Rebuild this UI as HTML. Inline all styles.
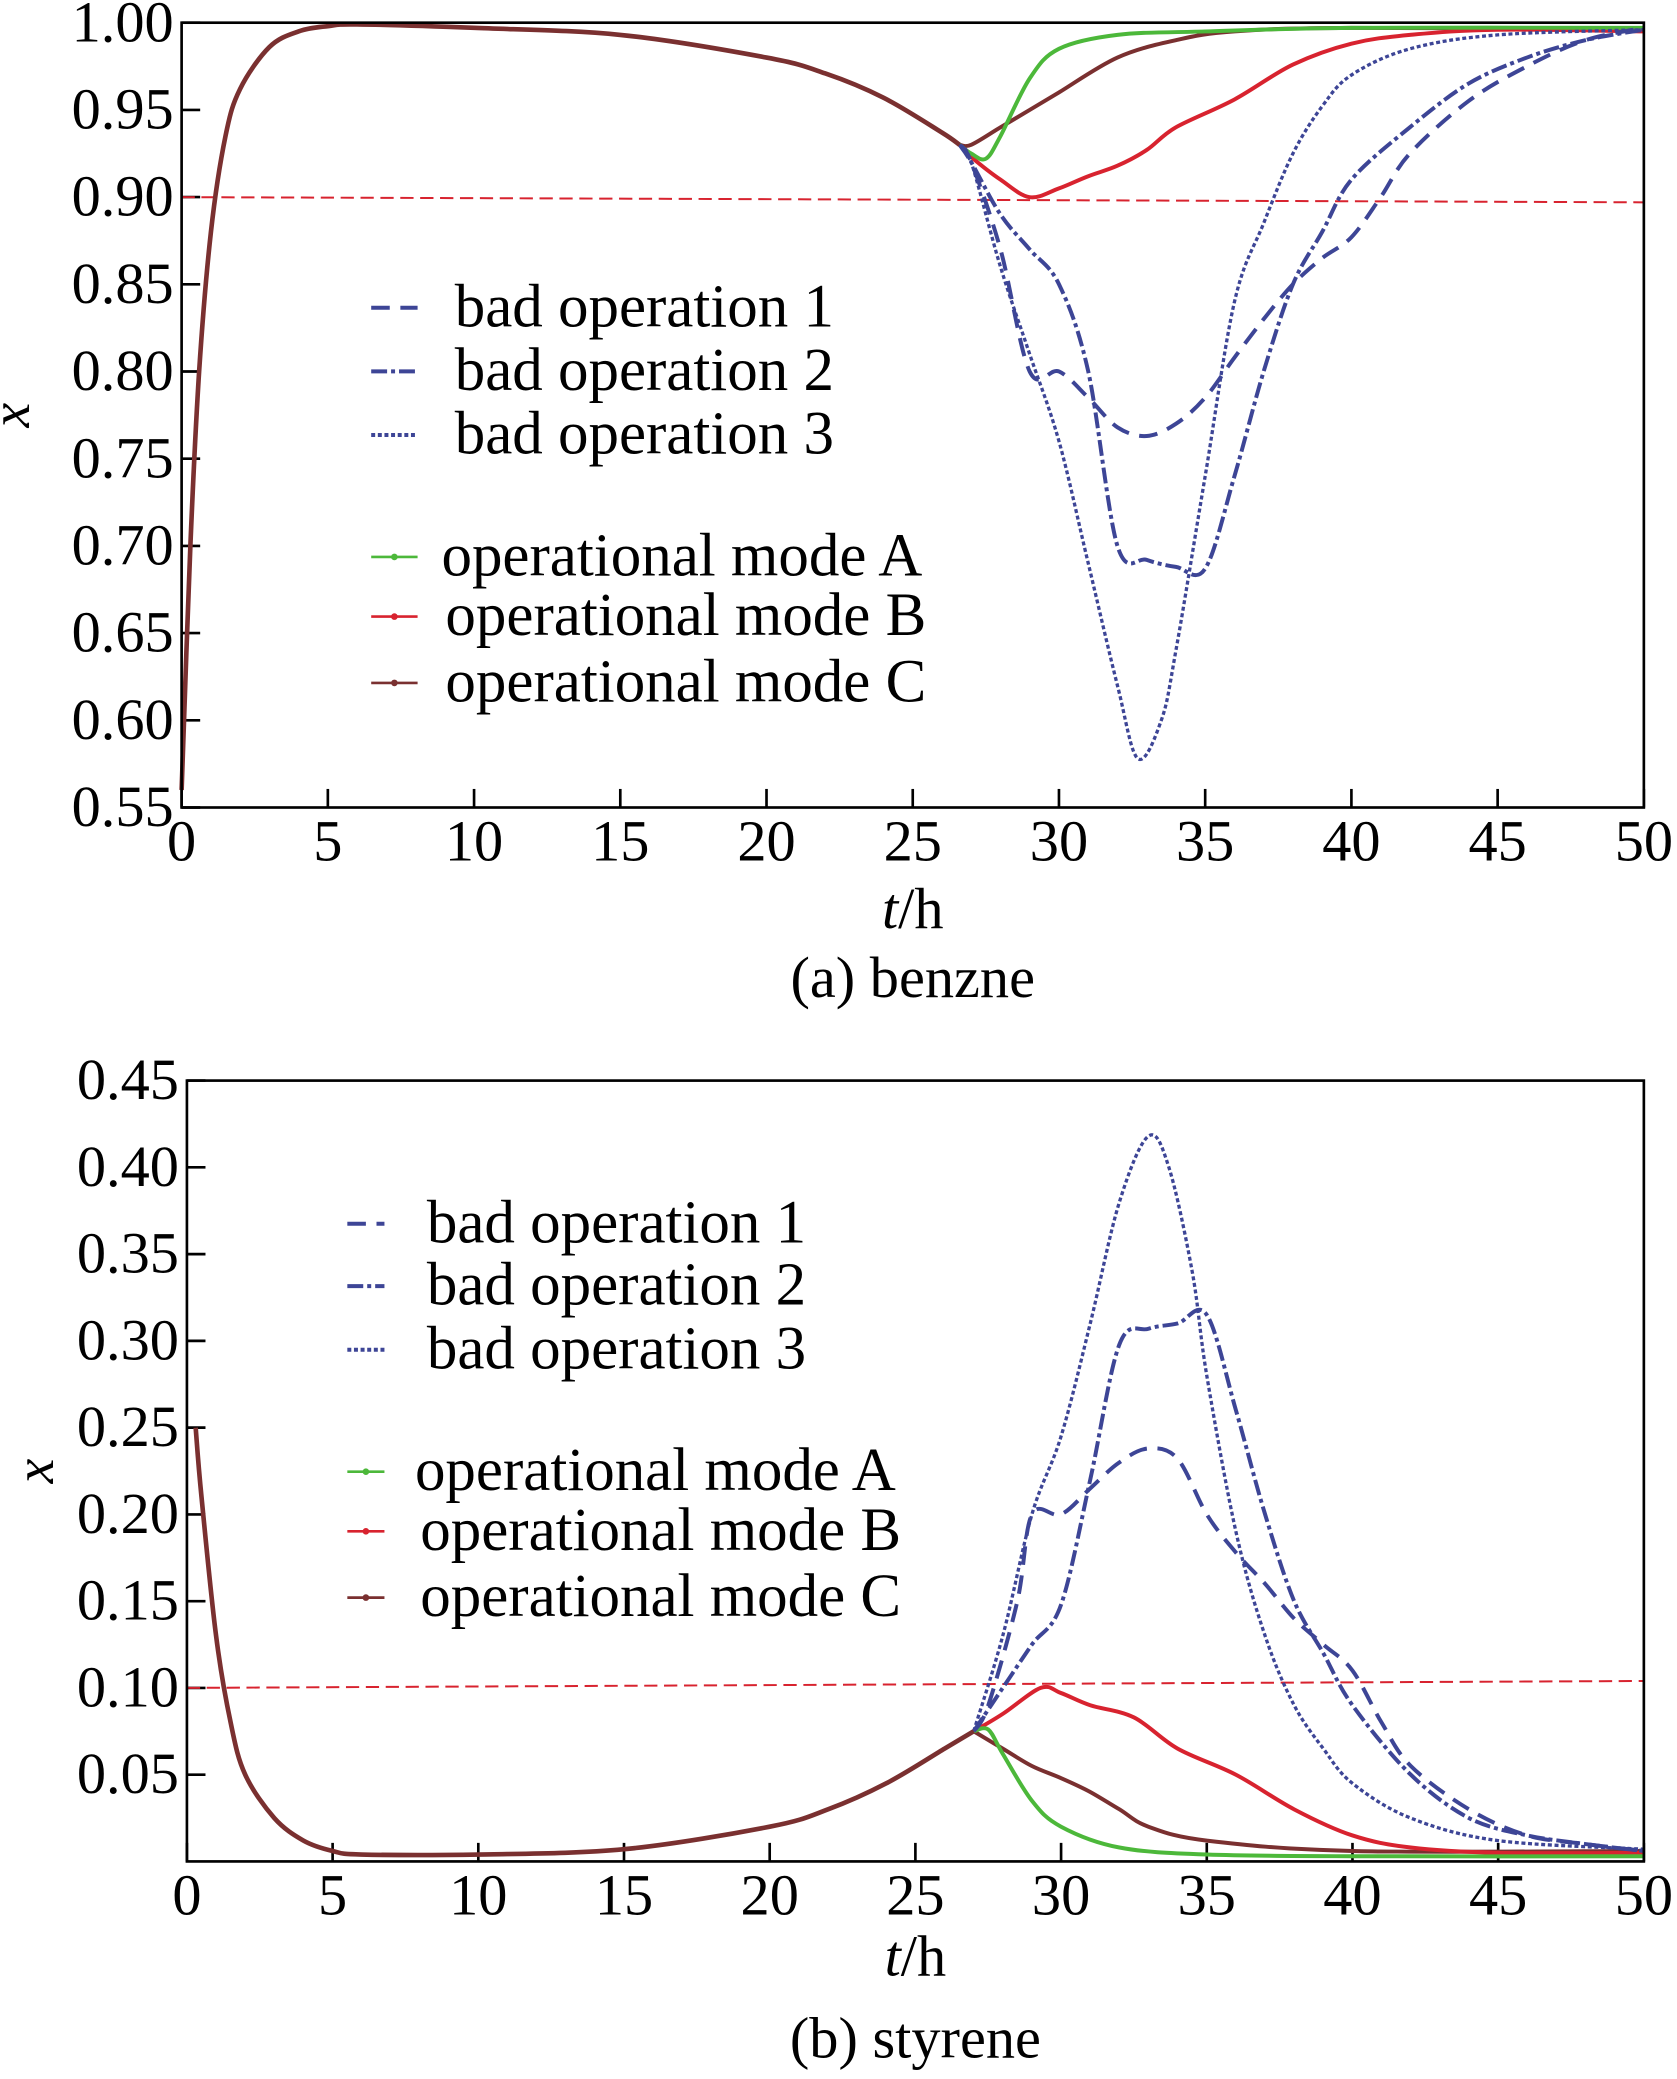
<!DOCTYPE html>
<html><head><meta charset="utf-8"><style>
html,body{margin:0;padding:0;background:#fff}
svg{display:block}
text{font-family:"Liberation Serif",serif;fill:#000}
</style></head><body>
<svg id="svg" width="1677" height="2079" viewBox="0 0 1265 1568" xmlns="http://www.w3.org/2000/svg"></svg>
<script>
// ---- data: benzene (a) ----
const aCommonT=[0,0.3,0.6,1,1.5,2,3,4,5,6,10,15,20,22,24,26,26.6];
const aCommonV=[0.56,0.70,0.80,0.88,0.935,0.962,0.986,0.995,0.998,0.999,0.997,0.993,0.98,0.971,0.957,0.937,0.93];
const aModeAT=[26.6,27,27.5,28,29,30,32,35,40,50];
const aModeAV=[0.93,0.925,0.922,0.935,0.968,0.985,0.993,0.995,0.997,0.997];
const aModeBT=[26.6,27,28,29,30,31,32,33,34,36,38,40,42,45,50];
const aModeBV=[0.93,0.923,0.91,0.90,0.905,0.912,0.918,0.927,0.94,0.956,0.976,0.988,0.993,0.996,0.995];
const aModeCT=[26.6,27,28,29,30,32,34,36,40,50];
const aModeCV=[0.93,0.93,0.94,0.95,0.96,0.98,0.99,0.995,0.997,0.996];
const aBad1T=[26.6,27,28,29,30,31,32,33,34,35,36,37,38,39,40,41,42,44,46,48,50];
const aBad1V=[0.93,0.92,0.87,0.80,0.80,0.785,0.768,0.763,0.77,0.785,0.808,0.83,0.85,0.865,0.877,0.9,0.925,0.955,0.975,0.99,0.997];
const aBad2T=[26.6,27,28,29,30,31,32,33,34,35,36,37,38,39,40,42,44,46,48,50];
const aBad2V=[0.93,0.92,0.89,0.87,0.85,0.80,0.70,0.692,0.688,0.687,0.74,0.80,0.85,0.88,0.91,0.94,0.965,0.98,0.99,0.996];
const aBad3T=[26.6,27,28,29,30,31,32,32.7,33.5,34,35,36,37,38,39,40,42,45,50];
const aBad3V=[0.93,0.92,0.86,0.81,0.76,0.69,0.62,0.578,0.60,0.64,0.74,0.84,0.885,0.925,0.952,0.97,0.985,0.993,0.996];
const aLimitT=[0,50];
const aLimitV=[0.90,0.897];
const aYTicks=["1.00","0.95","0.90","0.85","0.80","0.75","0.70","0.65","0.60","0.55"];
// ---- data: styrene (b) ----
const bCommonT=[0.3,0.5,1,1.5,2,3,4,5,6,10,15,20,22,24,26,27];
const bCommonV=[0.25,0.21,0.13,0.08,0.05,0.025,0.012,0.006,0.004,0.004,0.007,0.02,0.03,0.045,0.065,0.075];
const bModeAT=[27,27.5,28,29,30,32,35,40,50];
const bModeAV=[0.075,0.076,0.062,0.035,0.02,0.008,0.004,0.003,0.003];
const bModeBT=[27,28,29.3,30,31,32.5,34,36,38,40,42,45,50];
const bModeBV=[0.075,0.085,0.1,0.097,0.09,0.083,0.065,0.05,0.03,0.015,0.008,0.005,0.005];
const bModeCT=[27,28,29,30,31,32,33,35,40,50];
const bModeCV=[0.075,0.065,0.055,0.048,0.04,0.03,0.02,0.012,0.006,0.006];
const bBad1T=[27,27.5,28.5,29,30,31,32,33,34,35,36,37,38,39,40,41,42,44,46,48,50];
const bBad1V=[0.075,0.09,0.15,0.2,0.2,0.215,0.23,0.238,0.232,0.2,0.178,0.16,0.14,0.125,0.11,0.08,0.055,0.03,0.015,0.01,0.006];
const bBad2T=[27,28,29,30,31,32,33,34,35,36,37,38,39,40,42,44,46,48,50];
const bBad2V=[0.075,0.10,0.125,0.148,0.22,0.298,0.307,0.31,0.315,0.26,0.2,0.15,0.12,0.09,0.05,0.025,0.015,0.01,0.006];
const bBad3T=[27,28,29,30,31,32,33,33.7,34.5,35,36,37,38,39,40,42,45,50];
const bBad3V=[0.075,0.13,0.2,0.245,0.31,0.38,0.418,0.40,0.34,0.28,0.19,0.13,0.09,0.065,0.045,0.025,0.012,0.007];
const bLimitT=[0,50];
const bLimitV=[0.10,0.104];
const bYTicks=["0.45","0.40","0.35","0.30","0.25","0.20","0.15","0.10","0.05"];
const xTicks=[0,5,10,15,20,25,30,35,40,45,50];

const NS="http://www.w3.org/2000/svg";
const svg=document.getElementById('svg');
function el(tag,attrs,parent){const e=document.createElementNS(NS,tag);for(const k in attrs)e.setAttribute(k,attrs[k]);(parent||svg).appendChild(e);return e;}
function pathD(T,V,sx,sy){
  const P=T.map((t,i)=>[sx(t),sy(V[i])]);
  let d='M'+P[0][0].toFixed(1)+','+P[0][1].toFixed(1);
  for(let i=0;i<P.length-1;i++){
    const p0=P[i-1]||P[i],p1=P[i],p2=P[i+1],p3=P[i+2]||P[i+1];
    const c1=[p1[0]+(p2[0]-p0[0])/6,p1[1]+(p2[1]-p0[1])/6];
    const c2=[p2[0]-(p3[0]-p1[0])/6,p2[1]-(p3[1]-p1[1])/6];
    d+='C'+c1.map(v=>v.toFixed(1))+' '+c2.map(v=>v.toFixed(1))+' '+p2[0].toFixed(1)+','+p2[1].toFixed(1);
  }
  return d;
}
const BLUE='#3d4596',GREEN='#4cb83a',RED='#d8232f',BROWN='#7a3030';

function chart(cfg){
  const g=el('g',{});
  
  
  const sx=t=>cfg.L+(t/50)*(cfg.R-cfg.L);
  const sy=v=>cfg.B-(v-cfg.ymin)/(cfg.ymax-cfg.ymin)*(cfg.B-cfg.T);
  cfg.yTicks.forEach(s=>{
    const v=parseFloat(s),y=sy(v);
    const tk=el('line',{x1:cfg.L,x2:cfg.L+14,y1:y,y2:y,stroke:'#000','stroke-width':2},g);
    
    
    const tx=el('text',{x:cfg.L-6,y:y+14,'text-anchor':'end','font-size':44},g);
    
    
    tx.textContent=s;
  });
  xTicks.forEach(t=>{
    const x=sx(t);
    const tk=el('line',{x1:x,x2:x,y1:cfg.B,y2:cfg.B-14,stroke:'#000','stroke-width':2},g);
    
    
    const tx=el('text',{x:x,y:cfg.B+40,'text-anchor':'middle','font-size':44},g);
    
    
    tx.textContent=t;
  });
  const lim=el('path',{d:pathD(cfg.limT,cfg.limV,sx,sy),fill:'none',stroke:RED,'stroke-width':1.5,'stroke-dasharray':'10 5'},g);
  
  
  const series=[
    ['mode-c-line',cfg.cT,cfg.cV,BROWN,'',3],
    ['mode-b-line',cfg.bT,cfg.bV,RED,'',3],
    ['mode-a-line',cfg.aT,cfg.aV,GREEN,'',3],
    ['bad-operation-1-line',cfg.b1T,cfg.b1V,BLUE,'14 8',3],
    ['bad-operation-2-line',cfg.b2T,cfg.b2V,BLUE,'12 3 3 3',3],
    ['bad-operation-3-line',cfg.b3T,cfg.b3V,BLUE,'3 2',2.5],
    ['common-line',cfg.comT,cfg.comV,BROWN,'',3.5],
  ];
  series.forEach(s=>{
    const p=el('path',{d:pathD(s[1],s[2],sx,sy),fill:'none',stroke:s[3],'stroke-width':s[5],'stroke-dasharray':s[4]},g);
    
    
  });
  const fr=el('rect',{x:cfg.L,y:cfg.T,width:cfg.R-cfg.L,height:cfg.B-cfg.T,fill:'none',stroke:'#000','stroke-width':2},g);
  
  
  const lg=el('g',{},g);
  
  
  const ent=[
    ['bad operation 1',BLUE,'14 8',cfg.leg.y[0],false,cfg.leg.tx1],
    ['bad operation 2',BLUE,'12 3 3 3',cfg.leg.y[1],false,cfg.leg.tx1],
    ['bad operation 3',BLUE,'3 2',cfg.leg.y[2],false,cfg.leg.tx1],
    ['operational mode A',GREEN,'',cfg.leg.y[3],true,cfg.leg.tx2a],
    ['operational mode B',RED,'',cfg.leg.y[4],true,cfg.leg.tx2],
    ['operational mode C',BROWN,'',cfg.leg.y[5],true,cfg.leg.tx2],
  ];
  ent.forEach(e=>{
    const it=el('g',{},lg);
    
    
    el('line',{x1:cfg.leg.x1,x2:cfg.leg.x2,y1:e[3],y2:e[3],stroke:e[1],'stroke-width':e[4]?2:3,'stroke-dasharray':e[2]},it);
    if(e[4]) el('circle',{cx:(cfg.leg.x1+cfg.leg.x2)/2,cy:e[3],r:2.5,fill:e[1]},it);
    const t=el('text',{x:e[5],y:e[3]+14,'font-size':46},it);
    t.textContent=e[0];
  });
  const xl=el('text',{x:(cfg.L+cfg.R)/2,y:cfg.xlY,'text-anchor':'middle','font-size':44},g);
  
  
  xl.innerHTML='<tspan font-style="italic">t</tspan>/h';
  const yl=el('text',{x:0,y:0,'text-anchor':'middle','font-size':42,'font-style':'italic',transform:`translate(${cfg.ylX},${(cfg.T+cfg.B)/2}) rotate(-90)`},g);
  
  
  yl.textContent='x';
  const cp=el('text',{x:(cfg.L+cfg.R)/2,y:cfg.capY,'text-anchor':'middle','font-size':44},g);
  
  
  cp.textContent=cfg.caption;
}
chart({name:'benzene-chart',L:137,R:1240,T:17,B:609,ymin:0.55,ymax:1.0,yTicks:aYTicks,
  limT:aLimitT,limV:aLimitV,comT:aCommonT,comV:aCommonV,aT:aModeAT,aV:aModeAV,bT:aModeBT,bV:aModeBV,cT:aModeCT,cV:aModeCV,
  b1T:aBad1T,b1V:aBad1V,b2T:aBad2T,b2V:aBad2V,b3T:aBad3T,b3V:aBad3V,
  leg:{x1:280,x2:315,tx1:343,tx2:336,tx2a:333,y:[232,280,328,420,465,515]},xlY:700,ylX:22,capY:752,caption:'(a) benzne'});
chart({name:'styrene-chart',L:141,R:1240,T:815,B:1404,ymin:0,ymax:0.45,yTicks:bYTicks,
  limT:bLimitT,limV:bLimitV,comT:bCommonT,comV:bCommonV,aT:bModeAT,aV:bModeAV,bT:bModeBT,bV:bModeBV,cT:bModeCT,cV:bModeCV,
  b1T:bBad1T,b1V:bBad1V,b2T:bBad2T,b2V:bBad2V,b3T:bBad3T,b3V:bBad3V,
  leg:{x1:262,x2:290,tx1:322,tx2:317,tx2a:313,y:[923,970,1018,1110,1155,1205]},xlY:1490,ylX:40,capY:1552,caption:'(b) styrene'});
</script>
</body></html>
